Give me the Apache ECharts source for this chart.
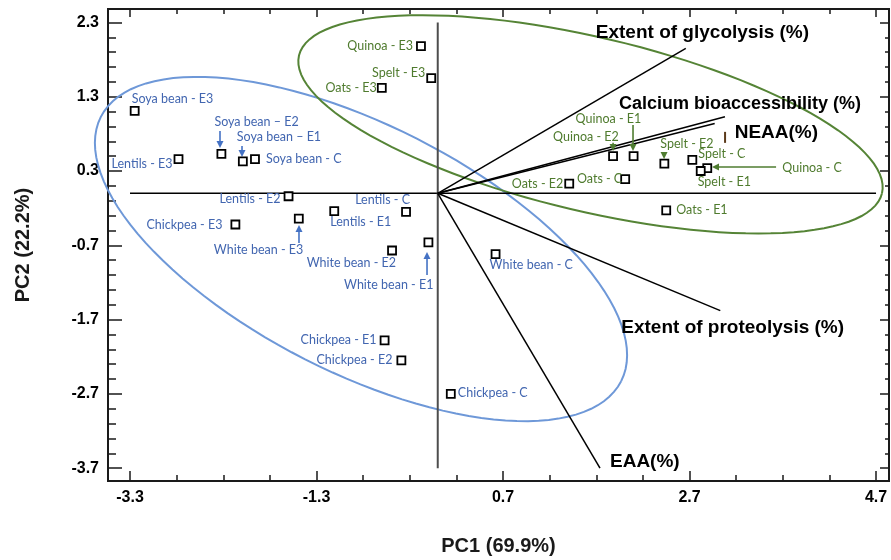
<!DOCTYPE html>
<html><head><meta charset="utf-8">
<script src="https://cdn.jsdelivr.net/npm/echarts@6/dist/echarts.min.js"></script>
<style>html,body{margin:0;padding:0;background:#fff}#c{width:891px;height:560px}</style>
</head><body><div id="c"></div>
<script>
// ---- data ----
const legumeNames = ['Soya bean - E3','Soya bean \u2013 E2','Soya bean \u2013 E1','Soya bean - C','Lentils - E3','Lentils - E2','Chickpea - E3','White bean - E3','Lentils - E1','Lentils - C','White bean - E2','White bean - E1','White bean - C','Chickpea - E1','Chickpea - E2','Chickpea - C'];
const legumePC1 = [-3.25,-2.32,-2.09,-1.96,-2.78,-1.60,-2.17,-1.49,-1.11,-0.34,-0.49,-0.10,0.62,-0.57,-0.39,0.14];
const legumePC2 = [1.11,0.53,0.43,0.46,0.46,-0.04,-0.42,-0.34,-0.24,-0.25,-0.77,-0.66,-0.82,-1.98,-2.25,-2.70];

const cerealNames = ['Quinoa - E3','Spelt - E3','Oats - E3','Quinoa - E1','Quinoa - E2','Spelt - E2','Spelt - C','Quinoa - C','Spelt - E1','Oats - C','Oats - E2','Oats - E1'];
const cerealPC1 = [-0.18,-0.07,-0.60,2.10,1.88,2.43,2.73,2.89,2.82,2.01,1.41,2.45];
const cerealPC2 = [1.98,1.55,1.42,0.50,0.50,0.40,0.45,0.34,0.30,0.19,0.13,-0.23];

const loadingNames = ['Extent of glycolysis (%)','Calcium bioaccessibility (%)','NEAA(%)','Extent of proteolysis (%)','EAA(%)'];
const loadingPC1 = [2.66,3.08,2.97,3.03,1.74];
const loadingPC2 = [1.95,1.03,0.94,-1.58,-3.70];

// annotation arrows [x1,y1,x2,y2] in PC units
const legumeArrows = [[-2.335,0.840,-2.335,0.611],[-2.099,0.638,-2.099,0.490],[-1.488,-0.669,-1.488,-0.426],[-0.115,-1.100,-0.115,-0.790]];
const cerealArrows = [[2.094,0.921,2.094,0.571],[1.880,0.679,1.880,0.571],[2.427,0.557,2.427,0.463],[3.628,0.355,2.941,0.355]];
const neaaMark = [[3.081,0.827,3.081,0.679]];

// confidence ellipses: centre, conjugate semi-diameters (PC units)
const legumeEllipse = [-0.823,-0.750, 2.790,-1.779, -0.599,-1.485];
const cerealEllipse = [1.638,0.928, 3.126,-0.927, -0.214,-1.140];

// origin cross lines
const originLines = [[-3.3,0,4.7,0],[0,2.3,0,-3.7]];

const xMajorTicks = [-3.3,-1.3,0.7,2.7,4.7];
const xMinorTicks = [-2.8,-2.3,-1.8,-0.8,-0.3,0.2,1.2,1.7,2.2,3.2,3.7,4.2];
const yMajorTicks = [2.3,1.3,0.3,-0.7,-1.7,-2.7,-3.7];
const yMinorTicks = [2.1,1.9,1.7,1.5,1.1,0.9,0.7,0.5,0.1,-0.1,-0.3,-0.5,-0.9,-1.1,-1.3,-1.5,-1.9,-2.1,-2.3,-2.5,-2.9,-3.1,-3.3,-3.5];

// ---- layout / style (pixel offsets for labels) ----
const legumeLabelOffset = [[-3,-12,'left'],[-7,-32,'left'],[-6,-24,'left'],[11,0,'left'],[-6,5,'right'],[-8,3,'right'],[-13,0,'right'],[-85,31,'left'],[-4,11,'left'],[4,-12,'right'],[4,12,'right'],[5,43,'right'],[-6,11,'left'],[-8,0,'right'],[-9,0,'right'],[7,-1,'left']];
const cerealLabelOffset = [[-8,0,'right'],[-6,-5,'right'],[-5,0,'right'],[-58,-37,'left'],[-60,-19,'left'],[-4,-20,'left'],[6,-6,'left'],[75,0,'left'],[-3,11,'left'],[-3,0,'right'],[-6,0,'right'],[10,0,'left']];
const loadingLabelOffset = [[-90,-16,19],[-106,-13,18],[20,9,19],[-99,17,19],[10,-6,19]];

const XMIN=-3.536, XMAX=4.839, YMIN=-3.873, YMAX=2.481;
const BLUE_TXT='#4266B0', GREEN_TXT='#4F7B2E', BLUE_EL='#6E98D8', GREEN_EL='#558436';
const BLUE_AR='#4472C4', GREEN_AR='#4F7D31';
const AX='#1a1a1a';

const chart = echarts.init(document.getElementById('c'), null, {renderer:'canvas'});

function mkX(pos, ticks, len, labels, extra){
  return Object.assign({
    type:'value', position:pos, min:XMIN, max:XMAX, gridIndex:0,
    axisLine:{show:true,onZero:false,lineStyle:{color:AX,width:2}},
    axisTick:{show:true,inside:true,length:len,customValues:ticks,lineStyle:{color:AX,width:1.5}},
    axisLabel: labels ? {show:true,customValues:xMajorTicks,margin:9,color:'#000',fontFamily:'Liberation Sans',fontWeight:'bold',fontSize:16} : {show:false},
    splitLine:{show:false}
  }, extra||{});
}
function mkY(pos, ticks, len, labels, extra){
  return Object.assign({
    type:'value', position:pos, min:YMIN, max:YMAX, gridIndex:0,
    axisLine:{show:true,onZero:false,lineStyle:{color:AX,width:2}},
    axisTick:{show:true,inside:true,length:len,customValues:ticks,lineStyle:{color:AX,width:1.5}},
    axisLabel: labels ? {show:true,customValues:yMajorTicks,margin:9,color:'#000',fontFamily:'Liberation Sans',fontWeight:'bold',fontSize:16} : {show:false},
    splitLine:{show:false}
  }, extra||{});
}

function ellipseRender(color){
  return function(params, api){
    const cx=api.value(0), cy=api.value(1), ux=api.value(2), uy=api.value(3), vx=api.value(4), vy=api.value(5);
    const pts=[];
    for(let k=0;k<=120;k++){
      const t=k/120*Math.PI*2;
      pts.push(api.coord([cx+ux*Math.cos(t)+vx*Math.sin(t), cy+uy*Math.cos(t)+vy*Math.sin(t)]));
    }
    return {type:'polyline', shape:{points:pts}, style:{stroke:color, lineWidth:2, fill:null}};
  };
}
function arrowRender(color, head){
  return function(params, api){
    const p1=api.coord([api.value(0),api.value(1)]);
    const p2=api.coord([api.value(2),api.value(3)]);
    const dx=p2[0]-p1[0], dy=p2[1]-p1[1], L=Math.hypot(dx,dy)||1;
    const ux=dx/L, uy=dy/L;
    if(!head){
      return {type:'line', shape:{x1:p1[0],y1:p1[1],x2:p2[0],y2:p2[1]}, style:{stroke:color,lineWidth:2}};
    }
    const hl=7, hw=3.5, bx=p2[0]-ux*hl, by=p2[1]-uy*hl;
    return {type:'group', children:[
      {type:'line', shape:{x1:p1[0],y1:p1[1],x2:bx,y2:by}, style:{stroke:color,lineWidth:1.6}},
      {type:'polygon', shape:{points:[[p2[0],p2[1]],[bx-uy*hw,by+ux*hw],[bx+uy*hw,by-ux*hw]]}, style:{fill:color}}
    ]};
  };
}
function labelRender(names, offsets, color){
  return function(params, api){
    const i=api.value(2);
    const p=api.coord([api.value(0),api.value(1)]);
    const o=offsets[i];
    return {type:'text', x:p[0]+o[0], y:p[1]+o[1], style:{text:names[i], fill:color, fontFamily:'Lato', fontSize:12.5, align:o[2], verticalAlign:'middle'}};
  };
}

const option = {
  animation:false,
  backgroundColor:'#fff',
  grid:{left:108, right:2, top:9, bottom:79, outerBoundsMode:'none', containLabel:false},
  xAxis:[
    mkX('bottom', xMajorTicks, 10, true, {name:'PC1 (69.9%)', nameLocation:'middle', nameGap:55, nameTextStyle:{fontFamily:'Liberation Sans',fontWeight:'bold',fontSize:20,color:'#1a1a1a'}}),
    mkX('bottom', xMinorTicks, 6, false),
    mkX('top', xMajorTicks, 8, false),
    mkX('top', xMinorTicks, 5, false)
  ],
  yAxis:[
    mkY('left', yMajorTicks, 14, true, {name:'PC2 (22.2%)', nameLocation:'middle', nameGap:75, nameTextStyle:{fontFamily:'Liberation Sans',fontWeight:'bold',fontSize:20,color:'#1a1a1a'}}),
    mkY('left', yMinorTicks, 8, false),
    mkY('right', yMajorTicks, 9, false),
    mkY('right', yMinorTicks, 4, false)
  ],
  series:[
    {type:'custom', name:'legume ellipse', z:1, clip:false, data:[legumeEllipse], renderItem:ellipseRender(BLUE_EL), silent:true},
    {type:'custom', name:'cereal ellipse', z:1, clip:false, data:[cerealEllipse], renderItem:ellipseRender(GREEN_EL), silent:true},
    {type:'custom', name:'origin', z:2, clip:false, data:originLines, silent:true,
      renderItem:function(params, api){
        const p1=api.coord([api.value(0),api.value(1)]), p2=api.coord([api.value(2),api.value(3)]);
        const vertical = params.dataIndex===1;
        return {type:'line', shape:{x1:p1[0],y1:p1[1],x2:p2[0],y2:p2[1]}, style:{stroke: vertical?'#4d4d4d':'#000', lineWidth: vertical?2:1.5}};
      }},
    {type:'custom', name:'loadings', z:3, clip:false, silent:true,
      data: loadingNames.map((n,i)=>[loadingPC1[i], loadingPC2[i], i]),
      renderItem:function(params, api){
        const i=api.value(2);
        const o=api.coord([0,0]), p=api.coord([api.value(0),api.value(1)]);
        const off=loadingLabelOffset[i];
        return {type:'group', children:[
          {type:'line', shape:{x1:o[0],y1:o[1],x2:p[0],y2:p[1]}, style:{stroke:'#000',lineWidth:1.5}},
          {type:'text', x:p[0]+off[0], y:p[1]+off[1], style:{text:loadingNames[i], fill:'#000', fontFamily:'Liberation Sans', fontWeight:'bold', fontSize:off[2], align:'left', verticalAlign:'middle'}}
        ]};
      }},
    {type:'custom', name:'neaa mark', z:3, clip:false, silent:true, data:neaaMark, renderItem:arrowRender('#5b3a1a', false)},
    {type:'custom', name:'legume arrows', z:4, clip:false, silent:true, data:legumeArrows, renderItem:arrowRender(BLUE_AR, true)},
    {type:'custom', name:'cereal arrows', z:4, clip:false, silent:true, data:cerealArrows, renderItem:arrowRender(GREEN_AR, true)},
    {type:'scatter', name:'Legumes', z:5, symbol:'rect', symbolSize:8, silent:true,
      data: legumePC1.map((x,i)=>[x, legumePC2[i]]),
      itemStyle:{color:'#fff', borderColor:'#000', borderWidth:1.8, opacity:1}},
    {type:'scatter', name:'Cereals', z:5, symbol:'rect', symbolSize:8, silent:true,
      data: cerealPC1.map((x,i)=>[x, cerealPC2[i]]),
      itemStyle:{color:'#fff', borderColor:'#000', borderWidth:1.8, opacity:1}},
    {type:'custom', name:'legume labels', z:6, clip:false, silent:true,
      data: legumeNames.map((n,i)=>[legumePC1[i], legumePC2[i], i]), renderItem:labelRender(legumeNames, legumeLabelOffset, BLUE_TXT)},
    {type:'custom', name:'cereal labels', z:6, clip:false, silent:true,
      data: cerealNames.map((n,i)=>[cerealPC1[i], cerealPC2[i], i]), renderItem:labelRender(cerealNames, cerealLabelOffset, GREEN_TXT)}
  ]
};
chart.setOption(option);
</script>
</body></html>
